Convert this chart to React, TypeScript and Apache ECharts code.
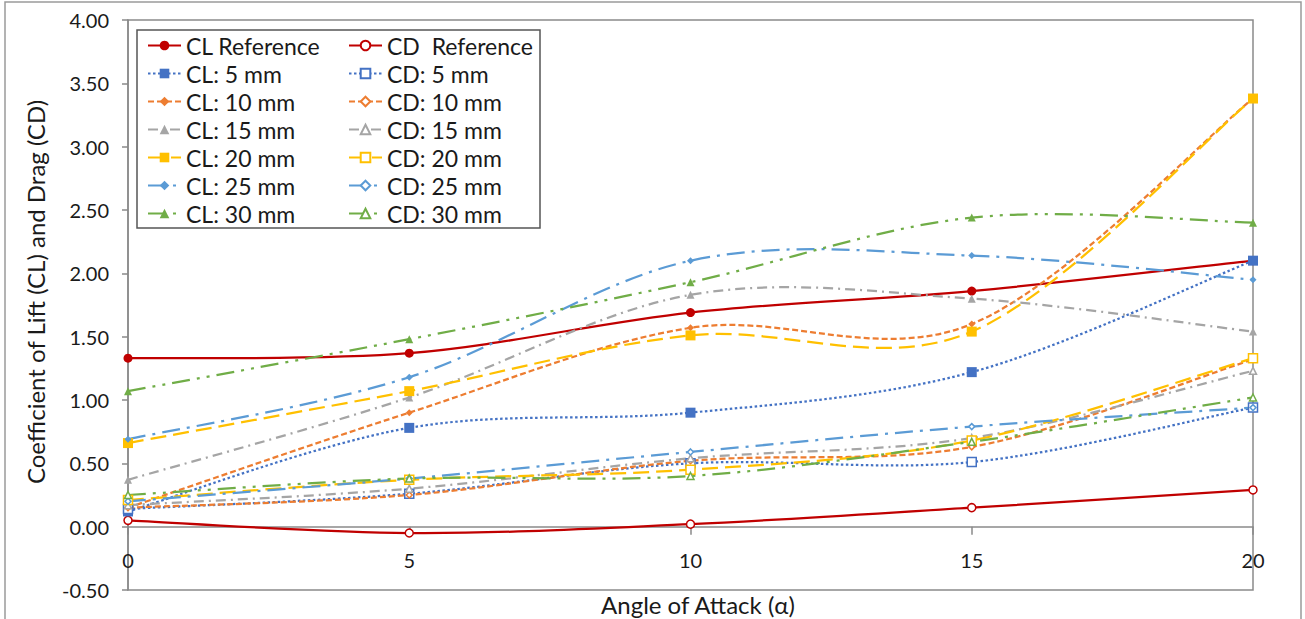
import React, { useEffect, useRef } from 'react';
import * as echarts from 'echarts';

const angles = [0, 5, 10, 15, 20];
const clRef = [1.33, 1.37, 1.69, 1.86, 2.10];
const cdRef = [0.05, -0.05, 0.02, 0.15, 0.29];
const cl5 = [0.12, 0.78, 0.90, 1.22, 2.10];
const cd5 = [0.14, 0.26, 0.50, 0.51, 0.94];
const cl10 = [0.15, 0.90, 1.57, 1.60, 3.38];
const cd10 = [0.15, 0.25, 0.52, 0.63, 1.32];
const cl15 = [0.37, 1.02, 1.83, 1.80, 1.54];
const cd15 = [0.17, 0.30, 0.54, 0.70, 1.23];
const cl20 = [0.66, 1.07, 1.51, 1.54, 3.38];
const cd20 = [0.21, 0.37, 0.45, 0.68, 1.33];
const cl25 = [0.69, 1.18, 2.10, 2.14, 1.95];
const cd25 = [0.20, 0.38, 0.59, 0.79, 0.94];
const cl30 = [1.07, 1.48, 1.93, 2.44, 2.40];
const cd30 = [0.25, 0.38, 0.40, 0.67, 1.02];

const clNames = ['CL Reference', 'CL: 5 mm', 'CL: 10 mm', 'CL: 15 mm', 'CL: 20 mm', 'CL: 25 mm', 'CL: 30 mm'];
const cdNames = ['CD  Reference', 'CD: 5 mm', 'CD: 10 mm', 'CD: 15 mm', 'CD: 20 mm', 'CD: 25 mm', 'CD: 30 mm'];
const clData = [clRef, cl5, cl10, cl15, cl20, cl25, cl30];
const cdData = [cdRef, cd5, cd10, cd15, cd20, cd25, cd30];

const colors = ['#C00000', '#4472C4', '#ED7D31', '#A5A5A5', '#FFC000', '#5B9BD5', '#70AD47'];
const dashes: any[] = [null, [2.5, 2.5], [6, 3], [10, 5, 2, 5], [16, 7], [18, 7, 3, 7], [18, 7, 3, 7, 3, 7]];
const symbols = ['circle', 'rect', 'diamond', 'triangle', 'rect', 'diamond', 'triangle'];
const symSizes = [9, 10, 7, 8, 10, 7, 8];

const FONT = 'Lato';
const LINE_W = 2.25;

// Excel-like smoothed curve (Catmull-Rom Bezier) drawn through the axes' own scales
function curveSeries(name: string, vals: number[], i: number) {
  return {
    name: name + ' (curve)',
    type: 'custom',
    z: 1,
    silent: true,
    data: angles.map((a, k) => [a, vals[k]]),
    encode: { x: 0, y: 1 },
    renderItem: (params: any, api: any) => {
      if (params.dataIndex !== 0) return null;
      const pts = angles.map((a, k) => api.coord([a, vals[k]]));
      const n = pts.length;
      let d = `M${pts[0][0]},${pts[0][1]}`;
      for (let s = 0; s < n - 1; s++) {
        const p0 = pts[Math.max(s - 1, 0)];
        const p1 = pts[s];
        const p2 = pts[s + 1];
        const p3 = pts[Math.min(s + 2, n - 1)];
        const c1x = p1[0] + (p2[0] - p0[0]) / 6;
        const c1y = p1[1] + (p2[1] - p0[1]) / 6;
        const c2x = p2[0] - (p3[0] - p1[0]) / 6;
        const c2y = p2[1] - (p3[1] - p1[1]) / 6;
        d += ` C${c1x},${c1y} ${c2x},${c2y} ${p2[0]},${p2[1]}`;
      }
      return {
        type: 'path',
        shape: { pathData: d },
        style: {
          fill: 'none',
          stroke: colors[i],
          lineWidth: LINE_W,
          lineDash: dashes[i],
          lineCap: 'butt',
        },
      };
    },
  };
}

function markerSeries(name: string, vals: number[], i: number, filled: boolean) {
  return {
    name,
    type: 'line',
    smooth: false,
    data: angles.map((a, k) => [a, vals[k]]),
    symbol: symbols[i],
    symbolSize: filled ? symSizes[i] : symSizes[i] - 1,
    showAllSymbol: true,
    lineStyle: { color: colors[i], width: LINE_W, type: dashes[i] || 'solid', opacity: 0 },
    itemStyle: filled
      ? { color: colors[i] }
      : { color: '#ffffff', borderColor: colors[i], borderWidth: 1.5 },
    z: 3,
  };
}

export default function App() {
  const ref = useRef<HTMLDivElement>(null);
  useEffect(() => {
    if (!ref.current) return;
    const chart = echarts.init(ref.current, undefined, { renderer: 'svg' });
    const series: any[] = [];
    for (let i = 0; i < 7; i++) {
      series.push(curveSeries(clNames[i], clData[i], i));
      series.push(curveSeries(cdNames[i], cdData[i], i));
    }
    for (let i = 0; i < 7; i++) {
      series.push(markerSeries(clNames[i], clData[i], i, true));
      series.push(markerSeries(cdNames[i], cdData[i], i, false));
    }
    const legendBase = {
      orient: 'vertical',
      top: 34,
      padding: 0,
      itemWidth: 33,
      itemHeight: 12,
      itemGap: 5,
      selectedMode: false,
      lineStyle: { opacity: 1 },
      textStyle: { fontFamily: FONT, fontSize: 23, lineHeight: 23, color: '#1a1a1a' },
      z: 5,
    };
    const gridTop = 20;
    const gridBottom = 29;
    const gridH = 619 - gridTop - gridBottom;
    const yMin = -0.5;
    const yMax = 4;
    const zeroOffset = -gridH * (0 - yMin) / (yMax - yMin);
    chart.setOption({
      animation: false,
      backgroundColor: '#ffffff',
      grid: {
        left: 128,
        right: 52,
        top: gridTop,
        bottom: gridBottom,
        containLabel: false,
        outerBoundsMode: 'none',
        show: true,
        borderColor: '#8a8a8a',
        borderWidth: 1.5,
      },
      xAxis: {
        type: 'value',
        min: 0,
        max: 20,
        interval: 5,
        position: 'bottom',
        offset: zeroOffset,
        axisLine: { onZero: false, lineStyle: { color: '#8a8a8a', width: 1.5 } },
        axisTick: { show: true, inside: false, length: 8, lineStyle: { color: '#8a8a8a', width: 1.5 } },
        axisLabel: { margin: 23, fontFamily: FONT, fontSize: 20, color: '#1a1a1a' },
        splitLine: { show: false },
      },
      yAxis: {
        type: 'value',
        min: yMin,
        max: yMax,
        interval: 0.5,
        axisLine: { show: true, onZero: false, lineStyle: { color: '#8a8a8a', width: 1.5 } },
        axisTick: { show: true, inside: false, length: 6, lineStyle: { color: '#8a8a8a', width: 1.5 } },
        axisLabel: {
          margin: 19,
          fontFamily: FONT,
          fontSize: 20,
          color: '#1a1a1a',
          formatter: (v: number) => v.toFixed(2),
        },
        splitLine: { show: false },
      },
      legend: [
        { ...legendBase, left: 147, data: clNames },
        { ...legendBase, left: 348, data: cdNames },
      ],
      graphic: [
        {
          type: 'rect',
          shape: { x: 5, y: 2, width: 1296, height: 640 },
          style: { fill: 'none', stroke: '#9a9a9a', lineWidth: 1.5 },
          z: 0,
          silent: true,
        },
        {
          type: 'rect',
          shape: { x: 137, y: 30, width: 403, height: 198 },
          style: { fill: '#ffffff', stroke: '#555555', lineWidth: 1.5 },
          z: 4,
          silent: true,
        },
        {
          type: 'text',
          x: 35,
          y: 292,
          rotation: Math.PI / 2,
          style: {
            text: 'Coefficient of Lift (CL) and Drag (CD)',
            fontFamily: FONT,
            fontSize: 24,
            fill: '#1a1a1a',
            textAlign: 'center',
            textVerticalAlign: 'middle',
          },
          z: 5,
        },
        {
          type: 'text',
          x: 698,
          y: 604,
          style: {
            text: 'Angle of Attack (α)',
            fontFamily: FONT,
            fontSize: 24,
            fill: '#1a1a1a',
            textAlign: 'center',
            textVerticalAlign: 'middle',
          },
          z: 5,
        },
      ],
      series,
    });
    return () => chart.dispose();
  }, []);
  return (
    <div
      ref={ref}
      style={{ position: 'fixed', left: 0, top: 0, width: 1305, height: 619, background: '#fff' }}
    />
  );
}
